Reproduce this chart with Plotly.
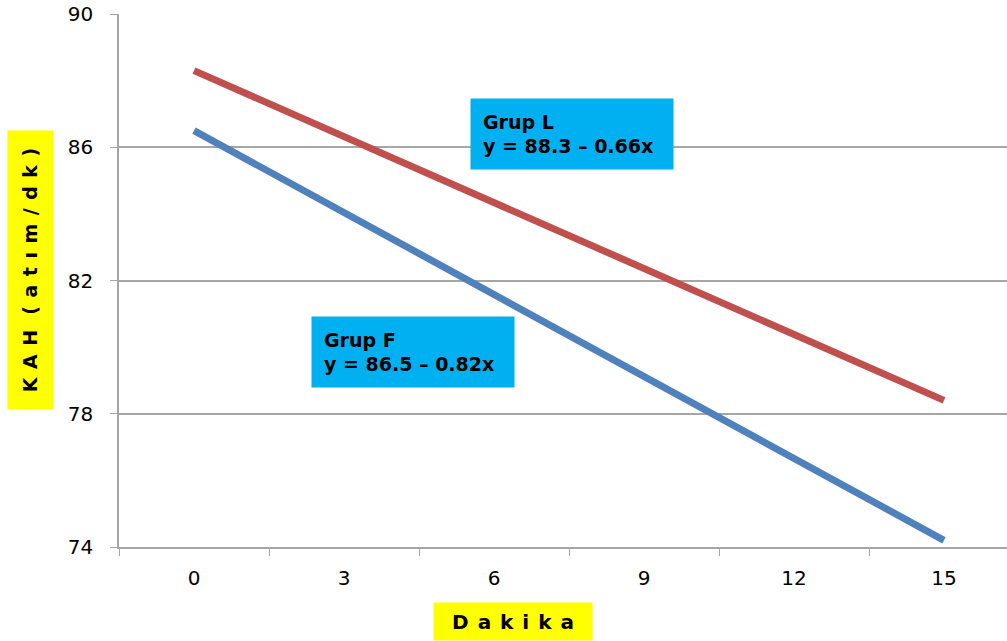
import plotly.graph_objects as go

minutes = ["0", "3", "6", "9", "12", "15"]
grup_l = [88.3, 86.32, 84.34, 82.36, 80.38, 78.4]
grup_f = [86.5, 84.04, 81.58, 79.12, 76.66, 74.2]
y_ticks = [74, 78, 82, 86, 90]

label_l = "<b>Grup L<br>y = 88.3 – 0.66x</b>"
label_f = "<b>Grup F<br>y = 86.5 – 0.82x</b>"
hs = "\u200a"
y_title = "<b>" + (" " + hs).join(list("KAH")) + " \u00a0" + hs + (" " + hs).join(list("(atım/dk)")) + "</b>"
x_title = "<b>" + (" " + hs).join(list("Dakika")) + "</b>"

fig = go.Figure()
fig.add_trace(go.Scatter(x=minutes, y=grup_l, mode="lines", name="Grup L",
                         line=dict(color="#C0504D", width=7), showlegend=False))
fig.add_trace(go.Scatter(x=minutes, y=grup_f, mode="lines", name="Grup F",
                         line=dict(color="#4F81BD", width=7), showlegend=False))

grid = "#A6A6A6"
fig.update_layout(
    width=1007, height=641,
    margin=dict(l=119, r=0, t=14, b=94),
    paper_bgcolor="white", plot_bgcolor="white",
    font=dict(family="DejaVu Sans", color="black"),
    xaxis=dict(type="category", range=[-0.5, 5.42], tickson="boundaries",
               ticks="outside", ticklen=7, tickcolor=grid, showgrid=False,
               showline=True, linecolor=grid, linewidth=1.5,
               tickfont=dict(size=20), ticklabelstandoff=12),
    yaxis=dict(range=[74, 90], tickvals=y_ticks, showgrid=True, gridcolor=grid,
               gridwidth=1.5, ticks="outside", ticklen=7, tickcolor=grid,
               showline=True, linecolor=grid, linewidth=1.5, zeroline=False,
               tickfont=dict(size=20), ticklabelstandoff=13),
)

box_font = dict(size=19, color="black", family="DejaVu Sans")
fig.add_annotation(x=2.52, y=86.4, xref="x", yref="y", text=label_l, showarrow=False,
                   xanchor="center", yanchor="middle",
                   bgcolor="#00B0F0", width=178, height=46, borderpad=12,
                   align="left", valign="middle", font=box_font)
fig.add_annotation(x=1.457, y=79.85, xref="x", yref="y", text=label_f, showarrow=False,
                   xanchor="center", yanchor="middle",
                   bgcolor="#00B0F0", width=178, height=46, borderpad=12,
                   align="left", valign="middle", font=box_font)
fig.add_annotation(x=-0.0997, y=0.5206, xref="paper", yref="paper", text=y_title,
                   showarrow=False, textangle=-90, xanchor="center", yanchor="middle",
                   bgcolor="#FFFF00", width=274, height=41, borderpad=2,
                   font=dict(size=19, color="black", family="DejaVu Sans"))
fig.add_annotation(x=0.4437, y=-0.1398, xref="paper", yref="paper", text=x_title,
                   showarrow=False, xanchor="center", yanchor="middle",
                   bgcolor="#FFFF00", width=154, height=33, borderpad=2,
                   font=dict(size=20, color="black", family="DejaVu Sans"))

fig.write_html("out.html", config={"displayModeBar": False},
               post_script="document.body.style.margin='0';")
